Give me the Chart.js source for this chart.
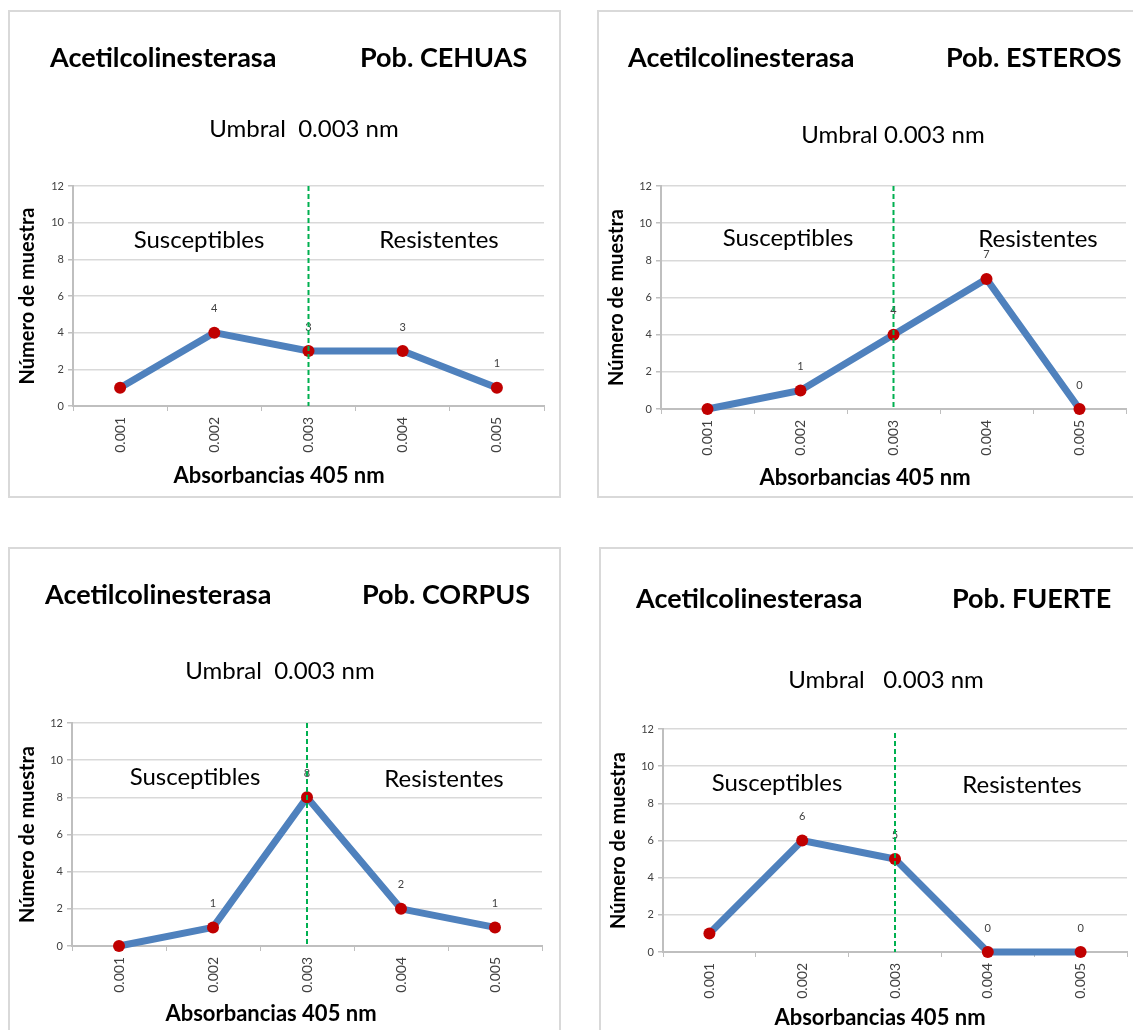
<!DOCTYPE html>
<html>
<head>
<meta charset="utf-8">
<script src="https://cdn.jsdelivr.net/npm/chart.js@4.4.0/dist/chart.umd.min.js"></script>
<style>
  body { margin: 0; width: 1133px; height: 1030px; overflow: hidden; position: relative; background: #fff;
         font-family: Lato, 'Open Sans', sans-serif; }
  .panel { position: absolute; border: 2px solid #d9d9d9; box-sizing: border-box; }
  canvas.plot { position: absolute; }
  .txt { position: absolute; white-space: pre; line-height: 1; color: #000; transform: translate(0, -50%); }
  .mid { transform: translate(-50%, -50%); }
  .big { font-size: 27px; font-weight: bold; }
  .sub { font-size: 24px; }
  .zone { font-size: 24px; }
  .axt { font-size: 22px; font-weight: bold; }
</style>
</head>
<body>
<script>
const CATEGORIES = ['0.001', '0.002', '0.003', '0.004', '0.005'];
const CEHUAS  = [1, 4, 3, 3, 1];
const ESTEROS = [0, 1, 4, 7, 0];
const CORPUS  = [0, 1, 8, 2, 1];
const FUERTE  = [1, 6, 5, 0, 0];
// the first point carries no value label in any of the four charts
const LABELED = [false, true, true, true, true];
const Y_MAX = 12;
const Y_STEP = 2;
const UMBRAL = '0.003';

const TITLE = 'Acetilcolinesterasa';
const X_TITLE = 'Absorbancias 405 nm';
const Y_TITLE = 'Número de muestra';

// layout of each panel, in page pixels
const PANELS = [
  { name: 'Pob. CEHUAS', sub: 'Umbral  0.003 nm', data: CEHUAS,
    box: { x: 8, y: 10, w: 553, h: 488 }, plot: { l: 73, r: 544, t: 186, b: 406 }, lineTop: 0,
    tl: [50, 56], tr: [360, 56], um: [304, 128], su: [199, 239], re: [439, 239], xt: [279, 475] },
  { name: 'Pob. ESTEROS', sub: 'Umbral 0.003 nm', data: ESTEROS,
    box: { x: 597, y: 10, w: 600, h: 488 }, plot: { l: 661, r: 1126, t: 186, b: 409 }, lineTop: 0,
    tl: [628, 56], tr: [946, 56], um: [893, 134], su: [788, 237], re: [1038, 238], xt: [865, 477] },
  { name: 'Pob. CORPUS', sub: 'Umbral  0.003 nm', data: CORPUS,
    box: { x: 8, y: 547, w: 553, h: 600 }, plot: { l: 72, r: 542, t: 723, b: 946 }, lineTop: 0,
    tl: [45, 593], tr: [362, 593], um: [280, 670], su: [195, 776], re: [444, 778], xt: [271, 1013] },
  { name: 'Pob. FUERTE', sub: 'Umbral   0.003 nm', data: FUERTE,
    box: { x: 599, y: 547, w: 600, h: 600 }, plot: { l: 663, r: 1129, t: 729, b: 952 }, lineTop: 4,
    tl: [636, 597], tr: [952, 597], um: [886, 679], su: [777, 782], re: [1022, 784], xt: [880, 1017] },
];

Chart.defaults.font.family = "Lato, 'Open Sans', sans-serif";

const umbralPlugin = {
  id: 'umbral',
  afterDatasetsDraw(chart, args, opts) {
    const { ctx, chartArea, scales } = chart;
    const meta = chart.getDatasetMeta(0);
    ctx.save();
    ctx.font = '11px Lato, sans-serif';
    ctx.fillStyle = '#404040';
    ctx.textAlign = 'center';
    ctx.textBaseline = 'middle';
    meta.data.forEach((pt, i) => {
      if (LABELED[i]) ctx.fillText(String(chart.data.datasets[0].data[i]), pt.x, pt.y - 24);
    });
    const x = scales.x.getPixelForValue(CATEGORIES.indexOf(UMBRAL));
    ctx.strokeStyle = '#00b050';
    ctx.lineWidth = 2;
    ctx.setLineDash([5, 3]);
    ctx.beginPath();
    ctx.moveTo(x, chartArea.top + (opts.top || 0));
    ctx.lineTo(x, chartArea.bottom);
    ctx.stroke();
    ctx.restore();
  }
};

function addText(cls, text, pos) {
  const d = document.createElement('div');
  d.className = 'txt ' + cls;
  d.textContent = text;
  d.style.left = pos[0] + 'px';
  d.style.top = pos[1] + 'px';
  document.body.appendChild(d);
}

function drawPanel(p) {
  const frame = document.createElement('div');
  frame.className = 'panel';
  Object.assign(frame.style, { left: p.box.x + 'px', top: p.box.y + 'px', width: p.box.w + 'px', height: p.box.h + 'px' });
  document.body.appendChild(frame);

  const cw = Math.min(p.box.w, 1133 - p.box.x);
  const chh = Math.min(p.box.h, 1030 - p.box.y);
  const cv = document.createElement('canvas');
  cv.className = 'plot';
  cv.width = cw; cv.height = chh;
  Object.assign(cv.style, { left: p.box.x + 'px', top: p.box.y + 'px', width: cw + 'px', height: chh + 'px' });
  document.body.appendChild(cv);

  const yW = p.plot.l - p.box.x;
  const xH = p.box.y + chh - p.plot.b;

  new Chart(cv, {
    type: 'line',
    data: {
      labels: CATEGORIES,
      datasets: [{
        data: p.data,
        borderColor: '#4f81bd', borderWidth: 7,
        pointBackgroundColor: '#c00000', pointBorderColor: '#c00000',
        pointRadius: 6, pointBorderWidth: 0, tension: 0, clip: false,
      }]
    },
    options: {
      responsive: false, animation: false, devicePixelRatio: 1,
      layout: { padding: { left: 0, top: p.plot.t - p.box.y, right: p.box.x + cw - p.plot.r, bottom: 0 } },
      plugins: { legend: { display: false }, tooltip: { enabled: false }, umbral: { top: p.lineTop } },
      scales: {
        x: {
          offset: true,
          grid: { display: true, drawOnChartArea: false, offset: true, tickLength: 5, tickColor: '#bfbfbf' },
          border: { color: '#bfbfbf', width: 2 },
          ticks: { minRotation: 90, maxRotation: 90, font: { size: 14 }, color: '#404040', padding: 6 },
          afterFit: s => { s.height = xH; },
        },
        y: {
          min: 0, max: Y_MAX,
          grid: { color: '#d9d9d9', lineWidth: 1.5, tickLength: 5, tickColor: '#bfbfbf' },
          border: { color: '#bfbfbf', width: 2 },
          ticks: { stepSize: Y_STEP, font: { size: 11 }, color: '#404040', padding: 4 },
          title: { display: true, text: Y_TITLE, color: '#000', font: { size: 20, weight: 'bold' }, padding: { top: 8, bottom: 0 } },
          afterFit: s => { s.width = yW; },
        }
      }
    },
    plugins: [umbralPlugin]
  });

  addText('big', TITLE, p.tl);
  addText('big', p.name, p.tr);
  addText('sub mid', p.sub, p.um);
  addText('zone mid', 'Susceptibles', p.su);
  addText('zone mid', 'Resistentes', p.re);
  addText('axt mid', X_TITLE, p.xt);
}

PANELS.forEach(drawPanel);
</script>
</body>
</html>
